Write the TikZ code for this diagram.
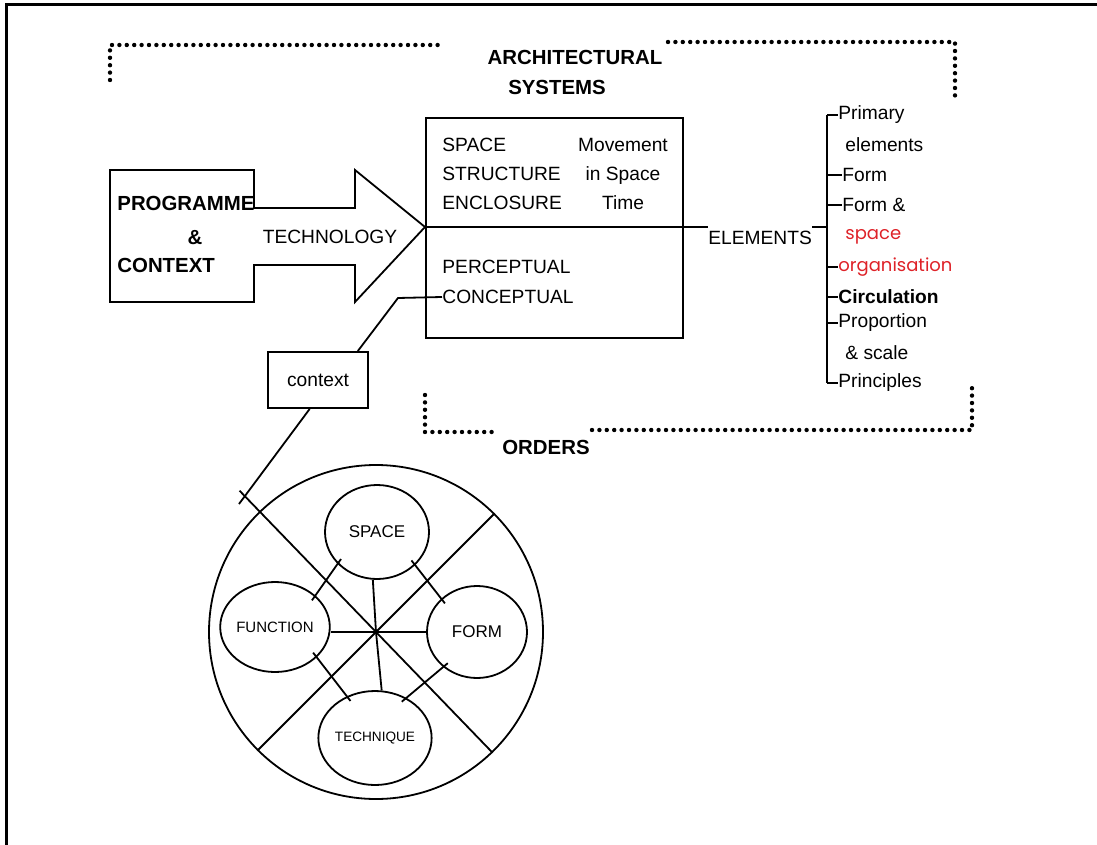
\documentclass[tikz,border=0pt]{standalone}
\usepackage{fontspec}
\setmainfont{Liberation Sans}
\newfontfamily\geofont{Poppins}
\usetikzlibrary{shapes.geometric, positioning, calc}
\definecolor{redtext}{RGB}{222, 34, 40}

\begin{document}
\begin{tikzpicture}[x=0.5pt, y=-0.5pt,
    txt/.style={inner sep=0pt, font=\fontsize{9.6}{14.5}\selectfont},
    tag/.style={txt, anchor=west},
    heading/.style={inner sep=0pt, font=\fontsize{10.2}{14}\selectfont\bfseries},
    redtag/.style={tag, text=redtext, font=\geofont\fontsize{9}{11}\selectfont},
    dots/.style={line width=2.2pt, line cap=round, dash pattern=on 0pt off 3.7pt},
    pen/.style={line width=0.9pt},
    bubble/.style={draw, ellipse, fill=white, line width=0.9pt, inner sep=0pt}
]
\useasboundingbox (0,0) rectangle (1097,845);

% page frame
\draw[line width=1.5pt] (1097,5) -- (6,5) -- (6,845);

% dotted brackets
\draw[dots] (110,80) -- (110,45) -- (440,45);
\draw[dots] (668,42) -- (955,42) -- (955,100);
\draw[dots] (425,395) -- (425,432) -- (497,432);
\draw[dots] (592,430) -- (972,430) -- (972,388);

\node[heading] (archi) at (575,57) {ARCHITECTURAL};
\node[heading] (systems) at (557,87) {SYSTEMS};
\node[heading] (orders) at (546,447) {ORDERS};

% programme box and technology arrow
\draw[pen] (110,170) -- (254,170) -- (254,208) -- (355,208) -- (355,170)
    -- (425,227) coordinate (tip) -- (355,302) -- (355,265) -- (254,265)
    -- (254,302) -- (110,302) -- cycle;
\node[heading, anchor=west] (programme) at (117,203) {PROGRAMME};
\node[heading] (amp) at (195,238) {\&};
\node[heading, anchor=west] (contextword) at (117,265) {CONTEXT};
\node[txt] (technology) at (330,237) {TECHNOLOGY};

% systems box
\node[draw, pen, inner sep=0pt, minimum width=128.5pt, minimum height=110pt] (sysbox) at (554.5,228) {};
\node[txt, anchor=west, align=left] (systemlist) at (442,174) {SPACE\\STRUCTURE\\ENCLOSURE};
\node[txt, align=center] (movement) at (623,174) {Movement\\in Space\\Time};
\node[tag] (perceptual) at (442,267) {PERCEPTUAL};
\node[tag] (conceptual) at (442,297) {CONCEPTUAL};

% elements tree
\node[tag] (elements) at (708,238) {ELEMENTS};
\coordinate (spine) at (827,0);
\draw[pen] (tip) -- (tip -| elements.west);
\draw[pen] (elements.east |- tip) -- (tip -| spine);

\node[tag] (primary) at (838,115) {Primary};
\node[tag] (primary2) at (845,145) {elements};
\node[tag] (formitem) at (842,175) {Form};
\node[tag] (formand) at (842,205) {Form \&};
\node[redtag] (spaceword) at (845,237) {space};
\node[redtag] (organisation) at (838,267) {organisation};
\node[tag, font=\fontsize{9.6}{14.5}\selectfont\bfseries] (circulation) at (838,297) {Circulation};
\node[tag] (proportion) at (838,323) {Proportion};
\node[tag] (scale) at (845,353) {\& scale};
\node[tag] (principles) at (838,383) {Principles};

\draw[pen] (primary.west -| spine) -- (principles.west -| spine);
\foreach \n in {primary, formitem, formand, organisation, circulation, proportion, principles}
    \draw[pen] (\n.west -| spine) -- (\n.west);

% context link
\node[draw, pen, txt, minimum width=50pt, minimum height=28pt] (context) at (318,380) {context};
\coordinate (ctxbend) at (398,298);
\coordinate (ctxend) at (239,504);
\draw[pen] (conceptual.west) -- (ctxbend) -- (context.36);
\draw[pen] (context.254) -- (ctxend);

% orders wheel
\node[circle, draw, pen, minimum size=167pt, inner sep=0pt] (wheel) at (376,632) {};
\draw[pen] ($(wheel.center)!1.17!(wheel.134)$) -- (wheel.-46);
\draw[pen] (wheel.45) -- (wheel.225);

\node[bubble, minimum width=52pt, minimum height=47pt, font=\fontsize{8.5}{10}\selectfont] (spacebub) at (377,532) {SPACE};
\node[bubble, minimum width=51pt, minimum height=45pt, font=\fontsize{7.5}{9}\selectfont] (funcbub) at (275,627) {FUNCTION};
\node[bubble, minimum width=50pt, minimum height=46pt, font=\fontsize{8.5}{10}\selectfont] (formbub) at (477,632) {FORM};
\node[bubble, minimum width=49pt, minimum height=47pt, font=\fontsize{6.8}{8}\selectfont] (techbub) at (375,738) {TECHNIQUE};

\draw[pen] (wheel.center) -- (spacebub.265);
\draw[pen] (wheel.center) -- (wheel.center -| funcbub.east);
\draw[pen] (wheel.center) -- (formbub.west);
\draw[pen] (wheel.center) -- (techbub.82);

\draw[pen, shorten <=-3pt, shorten >=-3pt] (spacebub.219) -- (funcbub.38);
\draw[pen, shorten <=-3pt, shorten >=-3pt] (spacebub.319) -- (formbub.137);
\draw[pen, shorten <=-3pt, shorten >=-3pt] (funcbub.324) -- (techbub.124);
\draw[pen, shorten <=-3pt, shorten >=-3pt] (formbub.226) -- (techbub.52);

\end{tikzpicture}
\end{document}
